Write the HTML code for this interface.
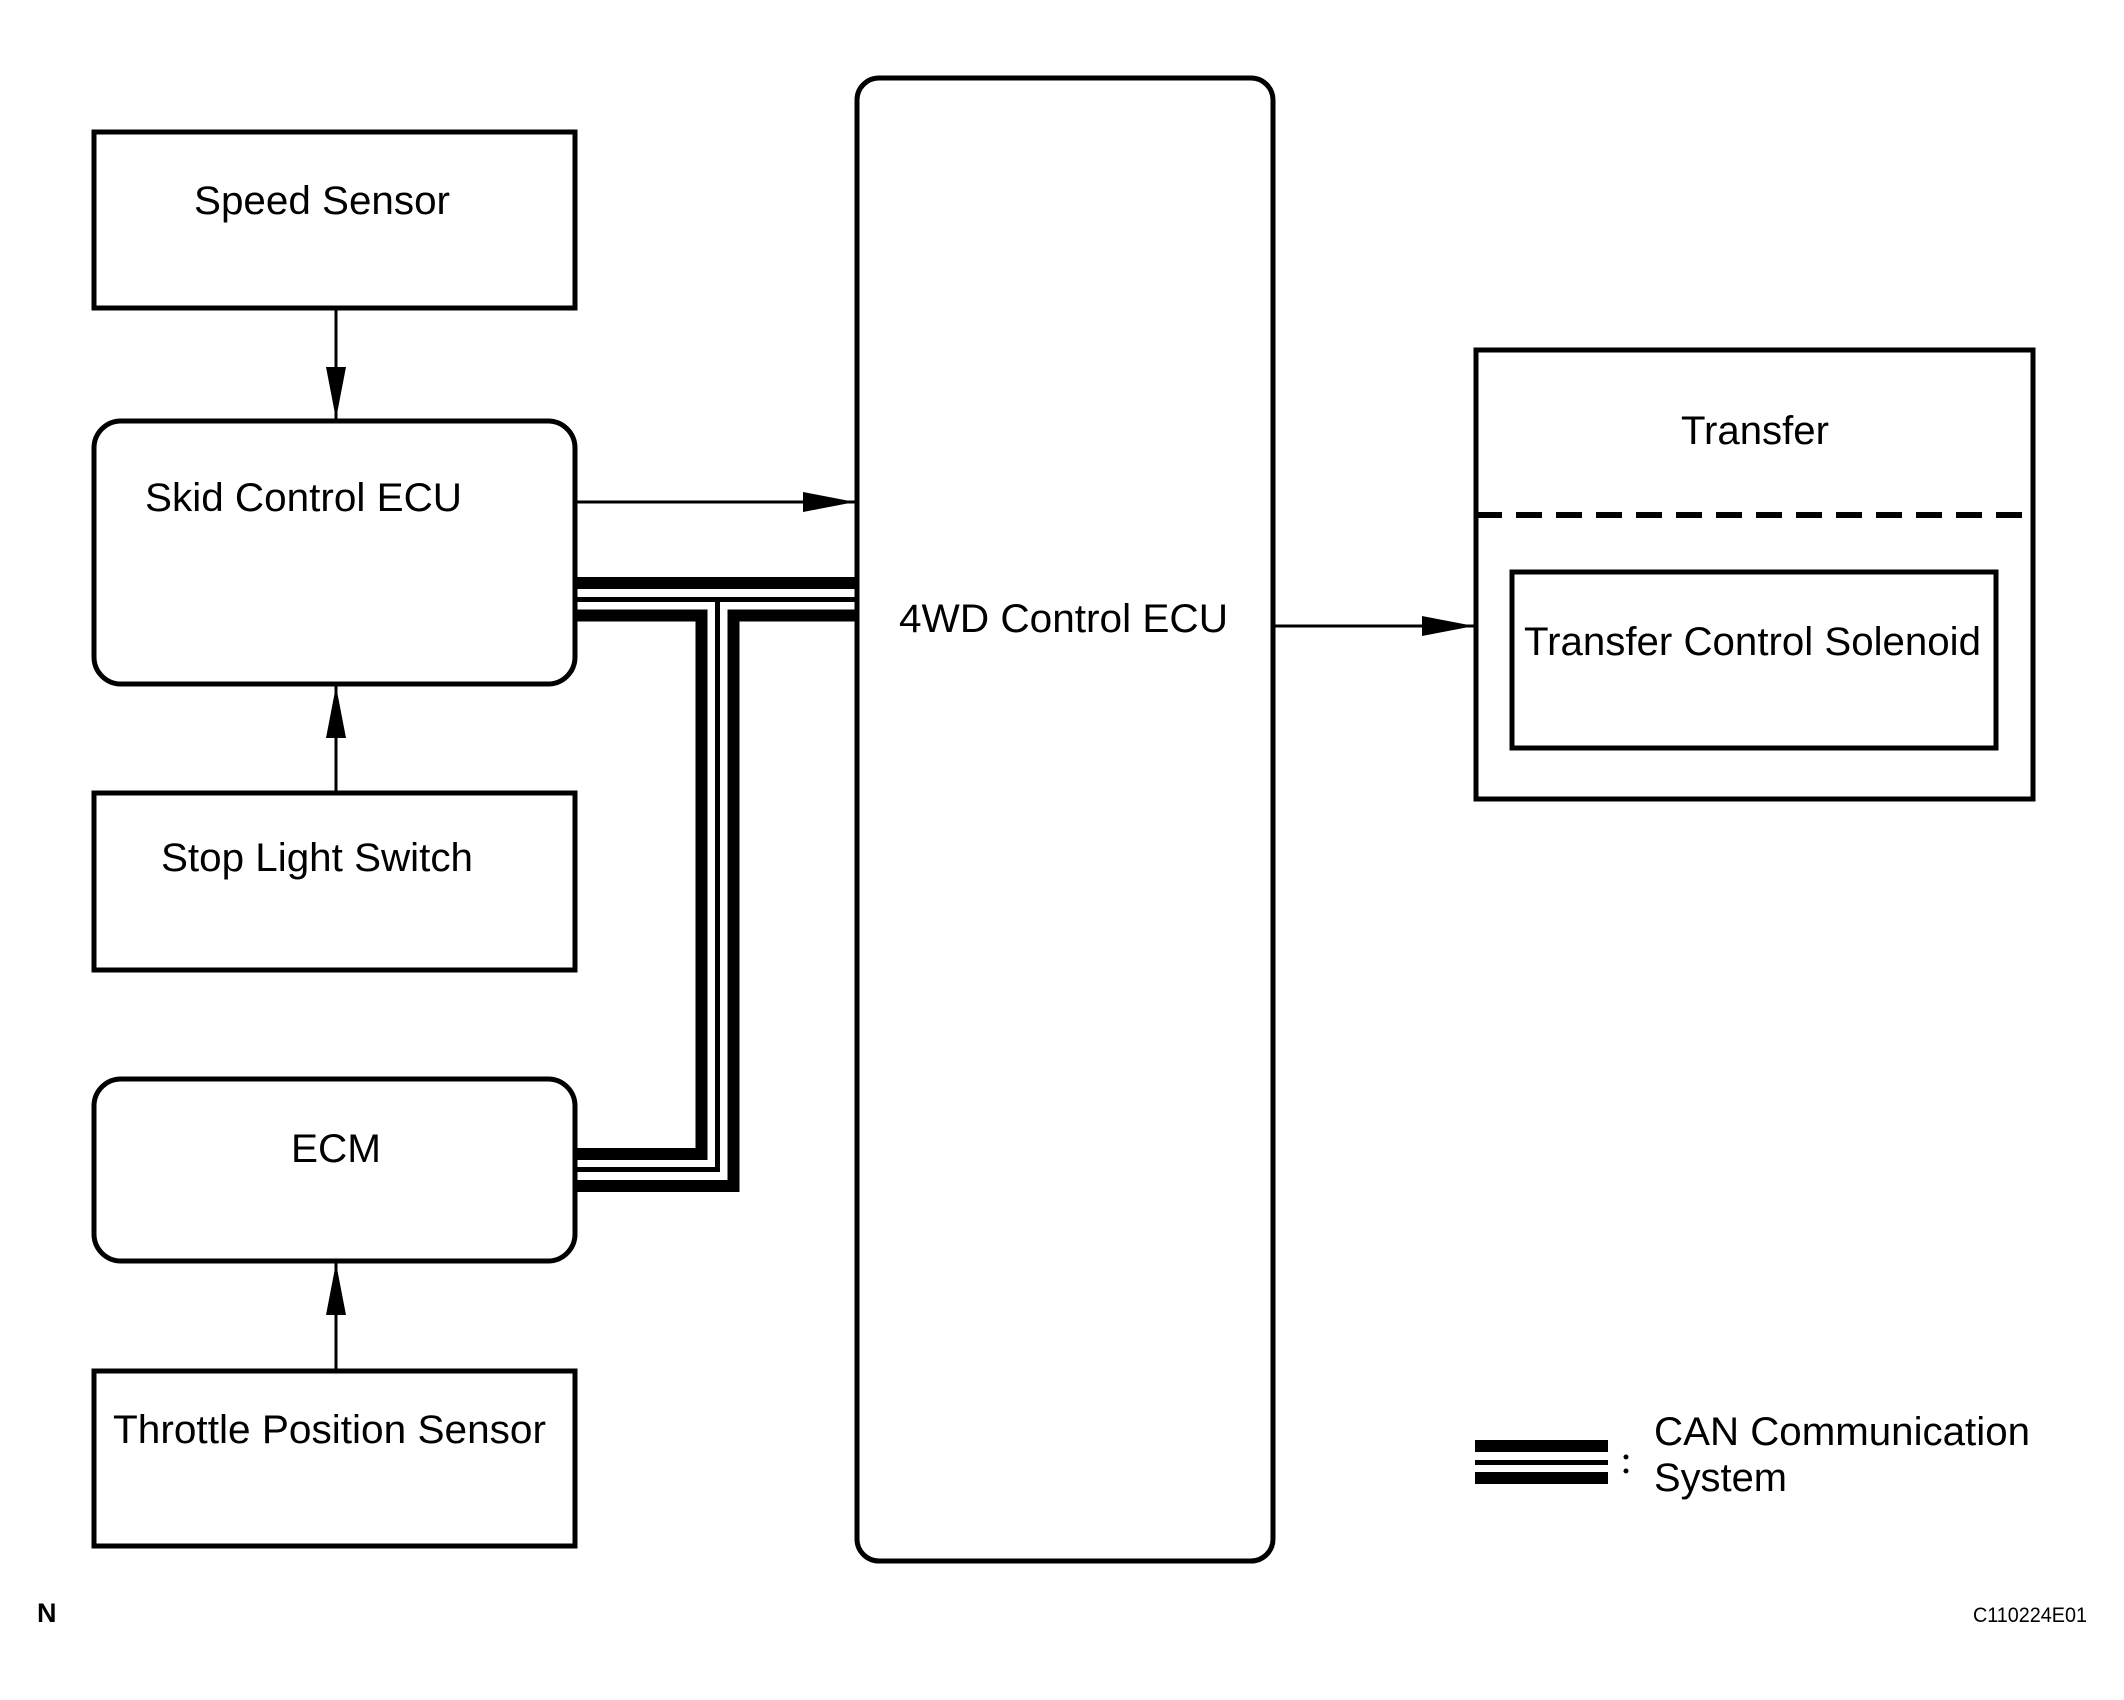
<!DOCTYPE html>
<html><head><meta charset="utf-8"><style>
html,body{margin:0;padding:0;background:#fff;}
svg{display:block;}
text{font-family:"Liberation Sans",Arial,sans-serif;fill:#000;}
</style></head><body>
<svg width="2124" height="1700" viewBox="0 0 2124 1700" xmlns="http://www.w3.org/2000/svg">
<defs>
<marker id="ah" markerWidth="52" markerHeight="20" refX="52" refY="10" orient="auto" markerUnits="userSpaceOnUse">
<path d="M0,0 L52,10 L0,20 Z" fill="#000"/>
</marker>
</defs>
<g fill="none" stroke="#000" stroke-width="5">
<rect x="94" y="132" width="481" height="176"/>
<rect x="94" y="421" width="481" height="263" rx="27"/>
<rect x="94" y="793" width="481" height="177"/>
<rect x="94" y="1079" width="481" height="182" rx="27"/>
<rect x="94" y="1371" width="481" height="175"/>
<rect x="857" y="78" width="416" height="1483" rx="22"/>
<rect x="1476" y="350" width="557" height="449"/>
<rect x="1512" y="572" width="484" height="176"/>
<line x1="1476" y1="515" x2="2033" y2="515" stroke-dasharray="26,14" stroke-width="6"/>
</g>
<g stroke="#000" stroke-width="3" fill="none">
<line x1="336" y1="310" x2="336" y2="419" marker-end="url(#ah)"/>
<line x1="336" y1="793" x2="336" y2="686" marker-end="url(#ah)"/>
<line x1="336" y1="1371" x2="336" y2="1263" marker-end="url(#ah)"/>
<line x1="577" y1="502" x2="855" y2="502" marker-end="url(#ah)"/>
<line x1="1275" y1="626" x2="1474" y2="626" marker-end="url(#ah)"/>
</g>
<g stroke="#000" fill="none" stroke-linejoin="miter" stroke-linecap="butt">
<line x1="575" y1="583" x2="855" y2="583" stroke-width="12"/>
<path d="M575,599.5 H855 M717.5,599.5 V1169.5 H575" stroke-width="5"/>
<path d="M575,615.5 H701.5 V1154 H575" stroke-width="12"/>
<path d="M855,615.5 H733.5 V1186 H575" stroke-width="12"/>
</g>
<rect x="1475" y="1440" width="133" height="12" fill="#000"/>
<rect x="1475" y="1460" width="133" height="5" fill="#000"/>
<rect x="1475" y="1472" width="133" height="12" fill="#000"/>
<circle cx="1626" cy="1457" r="2.5" fill="#000"/>
<circle cx="1626" cy="1471" r="2.5" fill="#000"/>
<g font-size="40">
<text x="194" y="214" textLength="256" lengthAdjust="spacingAndGlyphs">Speed Sensor</text>
<text x="145" y="511" textLength="317" lengthAdjust="spacingAndGlyphs">Skid Control ECU</text>
<text x="161" y="871" textLength="312" lengthAdjust="spacingAndGlyphs">Stop Light Switch</text>
<text x="291" y="1162" textLength="90" lengthAdjust="spacingAndGlyphs">ECM</text>
<text x="113" y="1443" textLength="433" lengthAdjust="spacingAndGlyphs">Throttle Position Sensor</text>
<text x="899" y="632" textLength="329" lengthAdjust="spacingAndGlyphs">4WD Control ECU</text>
<text x="1681" y="444" textLength="148" lengthAdjust="spacingAndGlyphs">Transfer</text>
<text x="1524" y="655" textLength="457" lengthAdjust="spacingAndGlyphs">Transfer Control Solenoid</text>
<text x="1654" y="1445" textLength="376" lengthAdjust="spacingAndGlyphs">CAN Communication</text>
<text x="1654" y="1491" textLength="133" lengthAdjust="spacingAndGlyphs">System</text>
</g>
<text x="1973" y="1622" font-size="21" textLength="114" lengthAdjust="spacingAndGlyphs">C110224E01</text>
<text x="37" y="1622" font-size="27" font-weight="bold">N</text>
</svg>
</body></html>
